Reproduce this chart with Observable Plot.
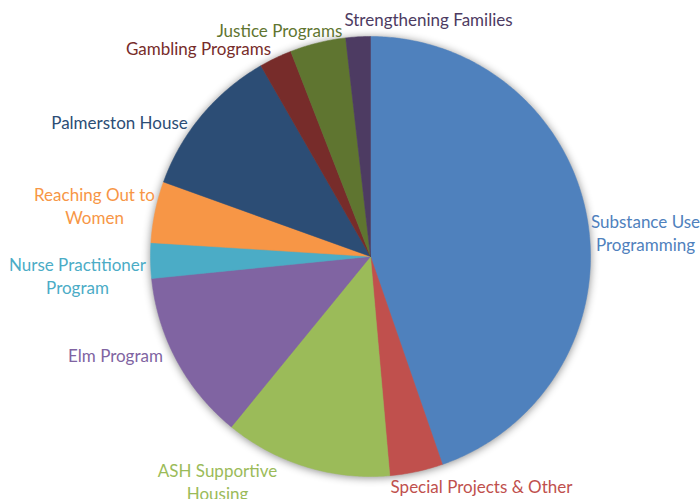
<!DOCTYPE html>
<html>
<head>
<meta charset="utf-8">
<script src="https://cdn.jsdelivr.net/npm/d3@7"></script>
<script src="https://cdn.jsdelivr.net/npm/@observablehq/plot@0.6"></script>
<style>
  html, body { margin: 0; padding: 0; background: #fff; }
  #chart { width: 700px; height: 499px; overflow: hidden; }
</style>
</head>
<body>
<div id="chart"></div>
<script>
// ---- Data (share of total, %) ----
const programs = [
  "Substance Use Programming",
  "Special Projects & Other",
  "ASH Supportive Housing",
  "Elm Program",
  "Nurse Practitioner Program",
  "Reaching Out to Women",
  "Palmerston House",
  "Gambling Programs",
  "Justice Programs",
  "Strengthening Families"
];
const shares = [44.7, 3.9, 12.3, 12.5, 2.6, 4.5, 11.2, 2.4, 4.1, 1.8];
const labelLines = [
  "Substance Use\nProgramming",
  "Special Projects & Other",
  "ASH Supportive\nHousing",
  "Elm Program",
  "Nurse Practitioner\nProgram",
  "Reaching Out to\nWomen",
  "Palmerston House",
  "Gambling Programs",
  "Justice Programs",
  "Strengthening Families"
];
const colors = ["#4F81BD", "#C0504D", "#9BBB59", "#8064A2", "#4BACC6",
                "#F79646", "#2C4D75", "#772C2A", "#5F7530", "#4D3B62"];

// ---- Layout ----
const W = 700, H = 499;
const cx = 370, cy = 256, R = 220;
// label anchors (pixel layout, centre of text block)
const labelAnchor = [
  [645, 232], [481, 485], [217, 481], [115, 354], [77, 275],
  [94, 205], [119, 121], [198, 47], [279, 29], [428, 18]
];

const pie = d3.pie().sort(null).value(d => d)(shares);
const slicePts = [];
pie.forEach((p, i) => {
  const a0 = p.startAngle, a1 = p.endAngle;
  const n = Math.max(2, Math.ceil((a1 - a0) / 0.01));
  slicePts.push({name: programs[i], x: cx, y: cy});
  for (let k = 0; k <= n; k++) {
    const a = a0 + (a1 - a0) * k / n;
    slicePts.push({name: programs[i], x: cx + R * Math.sin(a), y: cy - R * Math.cos(a)});
  }
  slicePts.push({name: programs[i], x: cx, y: cy});
});
const labels = programs.map((name, i) => ({
  name, text: labelLines[i], x: labelAnchor[i][0], y: labelAnchor[i][1]
}));

const chart = Plot.plot({
  width: W, height: H,
  margin: 0,
  x: {domain: [0, W], range: [0, W], axis: null},
  y: {domain: [0, H], range: [0, H], axis: null},
  color: {domain: programs, range: colors},
  style: {fontFamily: "Lato, sans-serif", background: "#fff"},
  marks: [
    Plot.line(slicePts, {x: "x", y: "y", z: "name", fill: "name", stroke: "name",
      strokeWidth: 0.5, curve: "linear"}),
    Plot.text(labels, {x: "x", y: "y", text: "text", fill: "name",
      fontSize: 17, lineHeight: 1.32, textAnchor: "middle"})
  ]
});
document.getElementById("chart").appendChild(chart);
// soft shadow around the pie
d3.select(chart).select('g[aria-label="line"]')
  .style("filter", "drop-shadow(0px 1px 4px rgba(0,0,0,0.45))");
</script>
</body>
</html>
